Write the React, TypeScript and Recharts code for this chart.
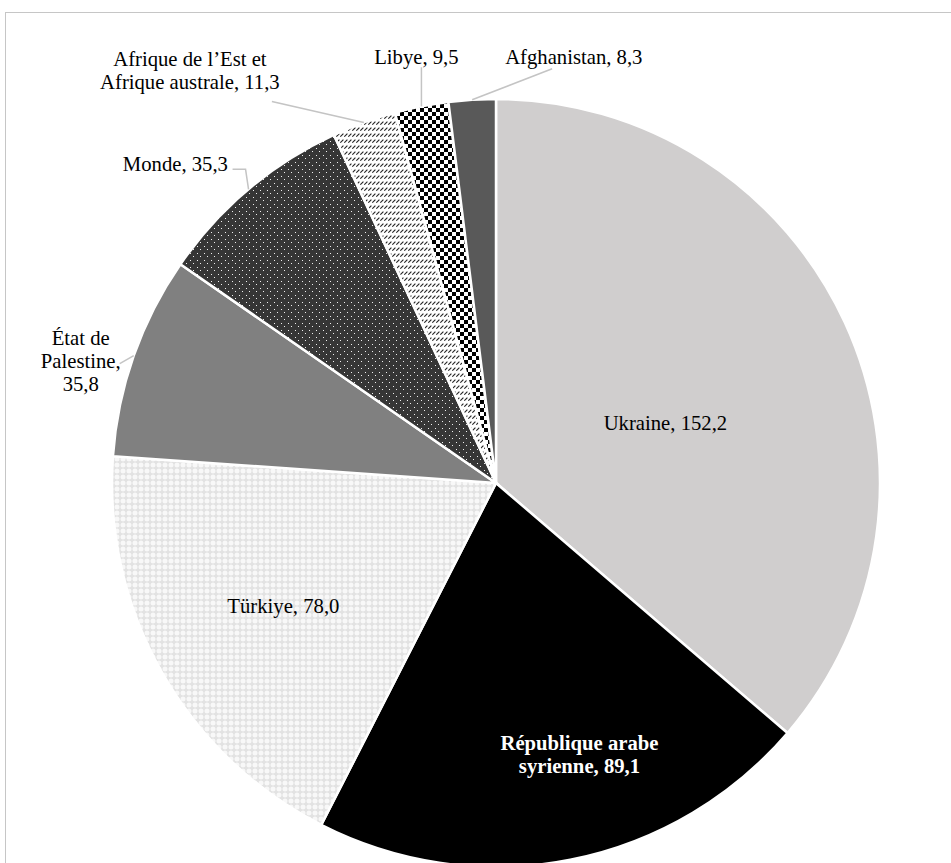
import React from 'react';
import { PieChart, Pie, Cell } from 'recharts';

// values (order = clockwise from 12 o'clock)
const categories = [
    'Ukraine',
    'République arabe syrienne',
    'Türkiye',
    'État de Palestine',
    'Monde',
    'Afrique de l’Est et Afrique australe',
    'Libye',
    'Afghanistan'
];
const values = [152.2, 89.1, 78.0, 35.8, 35.3, 11.3, 9.5, 8.3];

// how each category name is broken over lines in its label
const nameLines = [
    ['Ukraine'],
    ['République arabe', 'syrienne'],
    ['Türkiye'],
    ['État de', 'Palestine'],
    ['Monde'],
    ['Afrique de l’Est et', 'Afrique australe'],
    ['Libye'],
    ['Afghanistan']
];
const valueOnOwnLine = ['État de Palestine'];

const sliceFills = [
    '#d0cece',
    '#000000',
    'url(#pTurkiye)',
    '#808080',
    'url(#pMonde)',
    'url(#pAfrique)',
    'url(#pLibye)',
    '#595959'
];

// label placement: inside labels sit on the mid angle, outside ones hang off the rim with a leader
type Layout = {
    inside: boolean;
    rf?: number;
    dx?: number;
    dy?: number;
    tx?: number;
    ty?: number;
    anchor?: 'start' | 'middle' | 'end';
    leader?: number[][];
    bold?: boolean;
    color?: string;
};
const labelLayout: Layout[] = [
    { inside: true, rf: 0.5, dx: -5, dy: 20 },
    { inside: true, rf: 0.72, dx: 30, dy: 0, bold: true, color: '#ffffff' },
    { inside: true, rf: 0.6, dx: -12, dy: 10 },
    { inside: false, tx: -53, ty: -10.5, anchor: 'middle', leader: [[-14, 8]] },
    { inside: false, tx: -20.6, ty: -18.3, anchor: 'end', leader: [[-3, -20], [-16, -20]] },
    { inside: false, tx: -174, ty: -56.4, anchor: 'middle', leader: [[-92, -21]] },
    { inside: false, tx: -5, ty: -42, anchor: 'middle', leader: [[0, -39]] },
    { inside: false, tx: 33, ty: -36, anchor: 'start', leader: [[80, -31]] }
];

const chartData = categories.map((name, i) => ({ name, value: values[i] }));

const RAD = Math.PI / 180;
const LINE_H = 23;
const FONT = '"Liberation Serif", "Times New Roman", Times, serif';
const FONT_SIZE = 20.7;
const fmt = (v: number) => v.toFixed(1).replace('.', ',');

const buildLines = (i: number) => {
    const lines = [...nameLines[i]];
    const last = lines.length - 1;
    if (valueOnOwnLine.includes(categories[i])) {
        lines[last] = lines[last] + ',';
        lines.push(fmt(values[i]));
    } else {
        lines[last] = lines[last] + ', ' + fmt(values[i]);
    }
    return lines;
};

const renderLabel = (props: any) => {
    const { cx, cy, midAngle, outerRadius } = props;
    const idx = categories.indexOf(props.name ?? props.payload?.name);
    if (idx < 0) return null;
    const lay = labelLayout[idx];
    const lines = buildLines(idx);
    const cos = Math.cos(-midAngle * RAD);
    const sin = Math.sin(-midAngle * RAD);

    if (lay.inside) {
        const r = outerRadius * (lay.rf || 0.5);
        const x = cx + r * cos + (lay.dx || 0);
        const y = cy + r * sin + (lay.dy || 0);
        const top = y - ((lines.length - 1) * LINE_H) / 2;
        return (
            <text
                key={`lbl-${idx}`}
                textAnchor="middle"
                dominantBaseline="central"
                style={{ fontFamily: FONT, fontSize: FONT_SIZE, fontWeight: lay.bold ? 700 : 400 }}
                fill={lay.color || '#000'}
            >
                {lines.map((ln, k) => (
                    <tspan key={k} x={x} y={top + k * LINE_H}>{ln}</tspan>
                ))}
            </text>
        );
    }

    const ex = cx + outerRadius * cos;
    const ey = cy + outerRadius * sin;
    const pts = [[ex, ey], ...(lay.leader || []).map(([a, b]) => [ex + a, ey + b])];
    const tx = ex + (lay.tx || 0);
    const ty = ey + (lay.ty || 0);
    return (
        <g key={`lbl-${idx}`}>
            <polyline
                points={pts.map(p => p.join(',')).join(' ')}
                fill="none"
                stroke="#c4c4c4"
                strokeWidth={1.5}
            />
            <text
                textAnchor={lay.anchor}
                style={{ fontFamily: FONT, fontSize: FONT_SIZE }}
                fill="#000"
            >
                {lines.map((ln, k) => (
                    <tspan key={k} x={tx} y={ty + k * LINE_H}>{ln}</tspan>
                ))}
            </text>
        </g>
    );
};

const PatternDefs = () => (
    <svg width={0} height={0} style={{ position: 'absolute' }}>
        <defs>
            <pattern id="pTurkiye" width={6} height={6} patternUnits="userSpaceOnUse">
                <rect width={6} height={6} fill="#e2e2e2" />
                <circle cx={3} cy={3} r={2.5} fill="#f8f8f8" />
            </pattern>
            <pattern id="pMonde" width={7} height={7} patternUnits="userSpaceOnUse">
                <rect width={7} height={7} fill="#363636" />
                <rect x={1} y={1} width={1} height={1} fill="#f0f0f0" />
                <rect x={4} y={4} width={1} height={1} fill="#f0f0f0" />
            </pattern>
            <pattern id="pAfrique" width={4} height={6} patternUnits="userSpaceOnUse">
                <rect width={4} height={6} fill="#ffffff" />
                <path d="M0.3 4.7 L3.4 1.6" stroke="#222" strokeWidth={1.2} />
            </pattern>
            <pattern id="pLibye" width={8} height={8} patternUnits="userSpaceOnUse">
                <rect width={8} height={8} fill="#ffffff" />
                <rect x={0} y={0} width={4} height={4} fill="#000" />
                <rect x={4} y={4} width={4} height={4} fill="#000" />
            </pattern>
        </defs>
    </svg>
);

const App: React.FC = () => {
    return (
        <div style={{
            position: 'absolute',
            left: 0,
            top: 0,
            width: 951,
            height: 863,
            overflow: 'hidden',
            background: '#ffffff'
        }}>
            <PatternDefs />
            <div style={{
                position: 'absolute',
                left: 5,
                top: 12,
                width: 1000,
                height: 1000,
                border: '1.5px solid #c6c6c6'
            }} />
            <div style={{ position: 'absolute', left: 0, top: 0 }}>
                <PieChart width={951} height={863}>
                    <Pie
                        data={chartData}
                        dataKey="value"
                        nameKey="name"
                        cx={491}
                        cy={478}
                        outerRadius={384}
                        startAngle={90}
                        endAngle={-270}
                        stroke="#ffffff"
                        strokeWidth={2.5}
                        label={renderLabel}
                        labelLine={false}
                        isAnimationActive={false}
                    >
                        {chartData.map((d, i) => (
                            <Cell key={d.name} fill={sliceFills[i]} />
                        ))}
                    </Pie>
                </PieChart>
            </div>
        </div>
    );
};

export default App;
